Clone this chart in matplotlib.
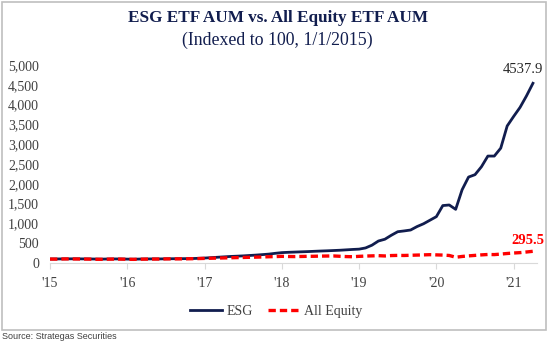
import matplotlib.pyplot as plt
import numpy as np

# monthly index values, Jan 2015 .. Apr 2021
esg = [100, 102, 104, 105, 106, 104, 103, 100, 98, 101, 103, 102,
       98, 96, 100, 102, 104, 103, 106, 108, 109, 110, 112, 118,
       125, 135, 145, 155, 165, 172, 180, 190, 200, 212, 225, 245,
       262, 270, 276, 282, 288, 295, 302, 308, 315, 322, 332, 342,
       350, 380, 450, 555, 600, 700, 790, 810, 833, 920, 990, 1080,
       1170, 1450, 1465, 1355, 1850, 2170, 2230, 2430, 2700, 2700, 2900, 3460,
       3700, 3930, 4220, 4537.9]
equity = [100, 98, 102, 103, 101, 100, 98, 94, 93, 97, 99, 98,
          94, 92, 96, 98, 99, 100, 103, 104, 104, 105, 108, 112,
          116, 120, 124, 128, 132, 136, 140, 144, 148, 152, 158, 162,
          168, 164, 162, 165, 168, 170, 174, 176, 178, 170, 162, 158,
          168, 175, 180, 185, 178, 188, 192, 190, 195, 200, 205, 210,
          205, 200, 190, 145, 165, 180, 192, 205, 215, 212, 225, 240,
          252, 262, 278, 295.5]
year_labels = ["'15", "'16", "'17", "'18", "'19", "'20", "'21"]

navy = '#111d4e'
serif = 'Liberation Serif'

fig = plt.figure(figsize=(5.5, 3.42), dpi=100)
ax = fig.add_axes([0.091, 0.231, 0.885, 0.579])

x = np.arange(len(esg))
ax.plot(x, esg, color=navy, lw=2.0, label='ESG', solid_joinstyle='round')
ax.plot(x, equity, color='#ff0000', lw=2.4, ls=(0, (2.2, 1.2)), label='All Equity')

ax.set_xlim(0, 75.6)
ax.set_ylim(0, 5000)
ax.set_xticks(np.arange(0, 84, 12))
ax.set_xticklabels(year_labels)
ax.set_yticks(np.arange(0, 5001, 500))
ax.set_yticklabels([f'{v:,}' for v in range(0, 5001, 500)])

for s in ['top', 'right', 'left']:
    ax.spines[s].set_visible(False)
ax.spines['bottom'].set_color('#d9d9d9')
ax.tick_params(axis='y', length=0, pad=8, labelsize=10, labelcolor='#404040')
ax.tick_params(axis='x', length=4, color='#d9d9d9', pad=6, labelsize=10, labelcolor='#404040')
for lab in ax.get_xticklabels() + ax.get_yticklabels():
    lab.set_fontfamily(serif)

ax.annotate(f'{esg[-1]}', (x[-1], esg[-1]), xytext=(7, 5), textcoords='offset points',
            ha='right', va='bottom', fontsize=10.5, color='#262626', family=serif,
            annotation_clip=False)
ax.annotate(f'{equity[-1]}', (x[-1], equity[-1]), xytext=(8, 3), textcoords='offset points',
            ha='right', va='bottom', fontsize=10.5, fontweight='bold', color='#ff0000', family=serif,
            annotation_clip=False)

fig.text(0.505, 0.948, 'ESG ETF AUM vs. All Equity ETF AUM', ha='center', va='center',
         fontsize=12.3, fontweight='bold', color=navy, family=serif)
fig.text(0.505, 0.882, '(Indexed to 100, 1/1/2015)', ha='center', va='center',
         fontsize=12.8, color=navy, family=serif)

leg = ax.legend(loc='center', bbox_to_anchor=(0.465, -0.245), ncol=2, frameon=False,
                prop={'family': serif, 'size': 10}, handlelength=2.3, columnspacing=1.1,
                handletextpad=0.3)
for t in leg.get_texts():
    t.set_color('#404040')

# outer frame
fig.patches.append(plt.Rectangle((0.004, 0.036), 0.989, 0.957, transform=fig.transFigure,
                                 fill=False, edgecolor='#bfbfbf', lw=1.2))
fig.text(0.004, 0.002, 'Source: Strategas Securities', fontsize=6.5, color='#404040',
         family='Liberation Sans', ha='left', va='bottom')

fig.savefig('out.png', dpi=100)
